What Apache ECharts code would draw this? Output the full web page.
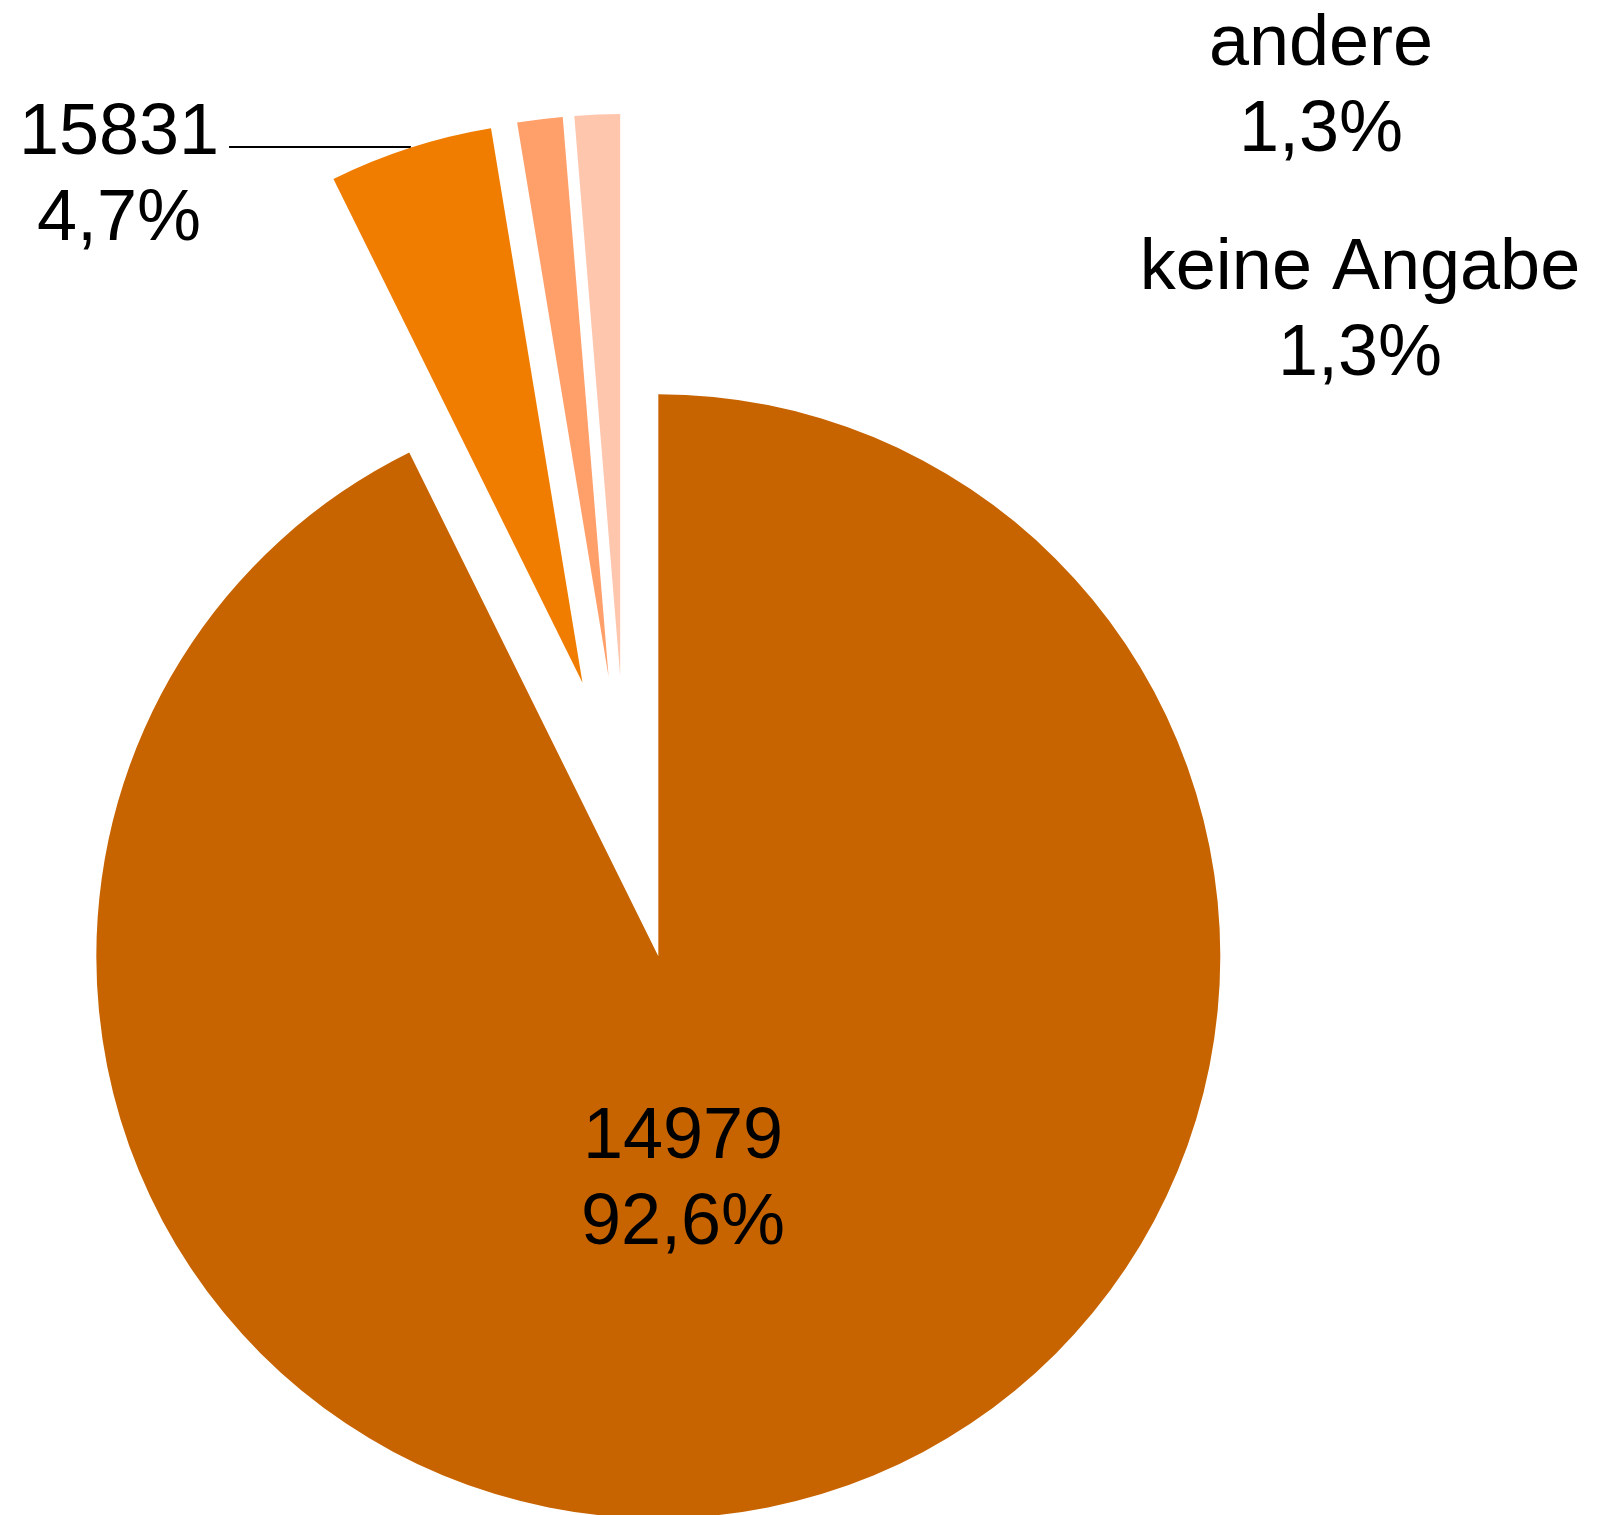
<!DOCTYPE html>
<html>
<head>
    <meta charset="utf-8">
    <title>Kreisdiagramm</title>
    <script src="https://cdn.jsdelivr.net/npm/echarts@6/dist/echarts.min.js"></script>
    <style>
        html, body { margin: 0; padding: 0; background: #fff; }
    </style>
</head>
<body>
    <div id="main" style="width: 1598px;height:1515px;"></div>
    <script type="text/javascript">
        // Daten aus der Vorlage
        var names = ['14979', '15831', 'andere', 'keine Angabe'];
        var percents = [92.6, 4.7, 1.3, 1.3];
        var colors = ['#C86400', '#F07D00', '#FF9F6A', '#FFC6AE'];

        // feste Plätze der Beschriftungen (15831 hängt an der Linie)
        var labelSpots = { 0: [683, 1181], 2: [1321, 88], 3: [1360, 312] };

        var font = 'Liberation Sans, Arial, sans-serif';

        function pctText(v) {
            return v.toFixed(1).replace('.', ',') + '%';
        }

        // sichtbare Torte, alle Stücke herausgezogen
        var pieData = names.map(function (n, i) {
            var item = {
                name: n,
                value: percents[i],
                selected: true,
                itemStyle: { color: colors[i] }
            };
            if (i === 1) {
                item.label = { show: true, position: 'outside' };
                item.labelLine = { show: true, length: 1, length2: 181 };
            }
            return item;
        });

        // unsichtbare Kopie nur für die übrigen Beschriftungen
        // (bei ausgewählten Stücken überschreibt ECharts die Label-Position)
        var labelData = names.map(function (n, i) {
            return {
                name: n,
                value: percents[i],
                label: { show: i !== 1 }
            };
        });

        var myChart = echarts.init(document.getElementById('main'));
        var option = {
            animation: false,
            series: [{
                type: 'pie',
                center: [626, 818],
                radius: 562,
                startAngle: 90,
                selectedMode: 'multiple',
                selectedOffset: 142,
                avoidLabelOverlap: false,
                emphasis: { disabled: true },
                label: {
                    show: false,
                    color: '#000',
                    fontFamily: font,
                    fontSize: 72,
                    distanceToLabelLine: 15,
                    formatter: function (p) {
                        return '{s| }\n{c|' + p.name + '}\n{c|' + pctText(p.value) + '}';
                    },
                    rich: {
                        s: { fontSize: 10, lineHeight: 60 },
                        c: { fontFamily: font, fontSize: 72, lineHeight: 86, width: 190, align: 'center', color: '#000' }
                    }
                },
                labelLine: {
                    show: false,
                    lineStyle: { color: '#000', width: 2 }
                },
                data: pieData
            }, {
                type: 'pie',
                silent: true,
                center: [626, 818],
                radius: 562,
                startAngle: 90,
                avoidLabelOverlap: false,
                itemStyle: { color: 'rgba(0,0,0,0)' },
                emphasis: { disabled: true },
                label: {
                    position: 'inside',
                    color: '#000',
                    fontFamily: font,
                    fontSize: 72,
                    lineHeight: 86,
                    align: 'center',
                    formatter: function (p) {
                        return p.name + '\n' + pctText(p.value);
                    }
                },
                labelLine: { show: false },
                labelLayout: function (params) {
                    var p = labelSpots[params.dataIndex];
                    if (!p) return {};
                    return { x: p[0], y: p[1], align: 'center', verticalAlign: 'middle' };
                },
                data: labelData
            }]
        };
        myChart.setOption(option);
    </script>
</body>
</html>
